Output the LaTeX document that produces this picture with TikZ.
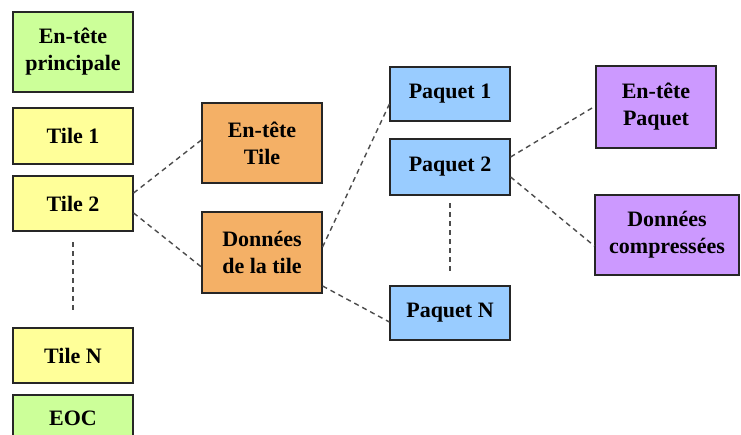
\documentclass[tikz,border=0pt]{standalone}
\usepackage{fontspec}
\setmainfont{Liberation Serif}
\begin{document}
\begin{tikzpicture}[x=1pt,y=-1pt,
  box/.style={draw=black!85,line width=1.2pt,rectangle,inner sep=0pt,align=center,
    minimum width=120pt,font=\fontsize{22}{27}\selectfont\bfseries},
  link/.style={draw=black!70,line width=1.4pt,dash pattern=on 5pt off 4pt}]
\definecolor{cgreen}{RGB}{204,255,153}
\definecolor{cyellow}{RGB}{255,255,153}
\definecolor{corange}{RGB}{244,176,102}
\definecolor{cblue}{RGB}{153,204,255}
\definecolor{cpurple}{RGB}{204,153,255}
\useasboundingbox (0,0) rectangle (741,434);
\fill[white] (0,0) rectangle (741,434);
% column 1
\node[box,fill=cgreen,minimum height=80pt] (ep) at (73,52) {En-tête\\principale};
\node[box,fill=cyellow,minimum height=56pt] (t1) at (73,136) {Tile 1};
\node[box,fill=cyellow,minimum height=55pt] (t2) at (73,203.5) {Tile 2};
\node[box,fill=cyellow,minimum height=55pt] (tn) at (73,355.5) {Tile N};
\node[box,fill=cgreen,minimum height=55pt,text depth=9pt] (eoc) at (73,422.5) {EOC};
% column 2
\node[box,fill=corange,minimum height=80pt] (et) at (262,143) {En-tête\\Tile};
\node[box,fill=corange,minimum height=81pt] (dt) at (262,252.5) {Données\\de la tile};
% column 3
\node[box,fill=cblue,minimum height=54pt] (p1) at (450,94) {Paquet 1};
\node[box,fill=cblue,minimum height=56pt] (p2) at (450,167) {Paquet 2};
\node[box,fill=cblue,minimum height=54pt] (pn) at (450,313) {Paquet N};
% column 4
\node[box,fill=cpurple,minimum height=82pt] (ehp) at (656,107) {En-tête\\Paquet};
\node[box,fill=cpurple,minimum height=80pt,minimum width=144pt] (dc) at (667,235) {Données\\compressées};
% connectors
\draw[link] ([yshift=10.5pt]t2.east) -- ([yshift=3pt]et.west);
\draw[link] ([yshift=-9.5pt]t2.east) -- ([yshift=-14.5pt]dt.west);
\draw[link] ([yshift=5.5pt]dt.east) -- ([yshift=-10pt]p1.west);
\draw[link] ([yshift=-33.5pt]dt.east) -- ([yshift=-9pt]pn.west);
\draw[link] ([yshift=10pt]p2.east) -- ([yshift=1pt]ehp.west);
\draw[link] ([yshift=-10pt]p2.east) -- ([yshift=-11pt]dc.west);
\coordinate (v1a) at (73,242);
\coordinate (v1b) at (73,313);
\draw[link] (v1a) -- (v1b);
\coordinate (v2a) at (450,203);
\coordinate (v2b) at (450,273);
\draw[link] (v2a) -- (v2b);
\end{tikzpicture}
\end{document}
